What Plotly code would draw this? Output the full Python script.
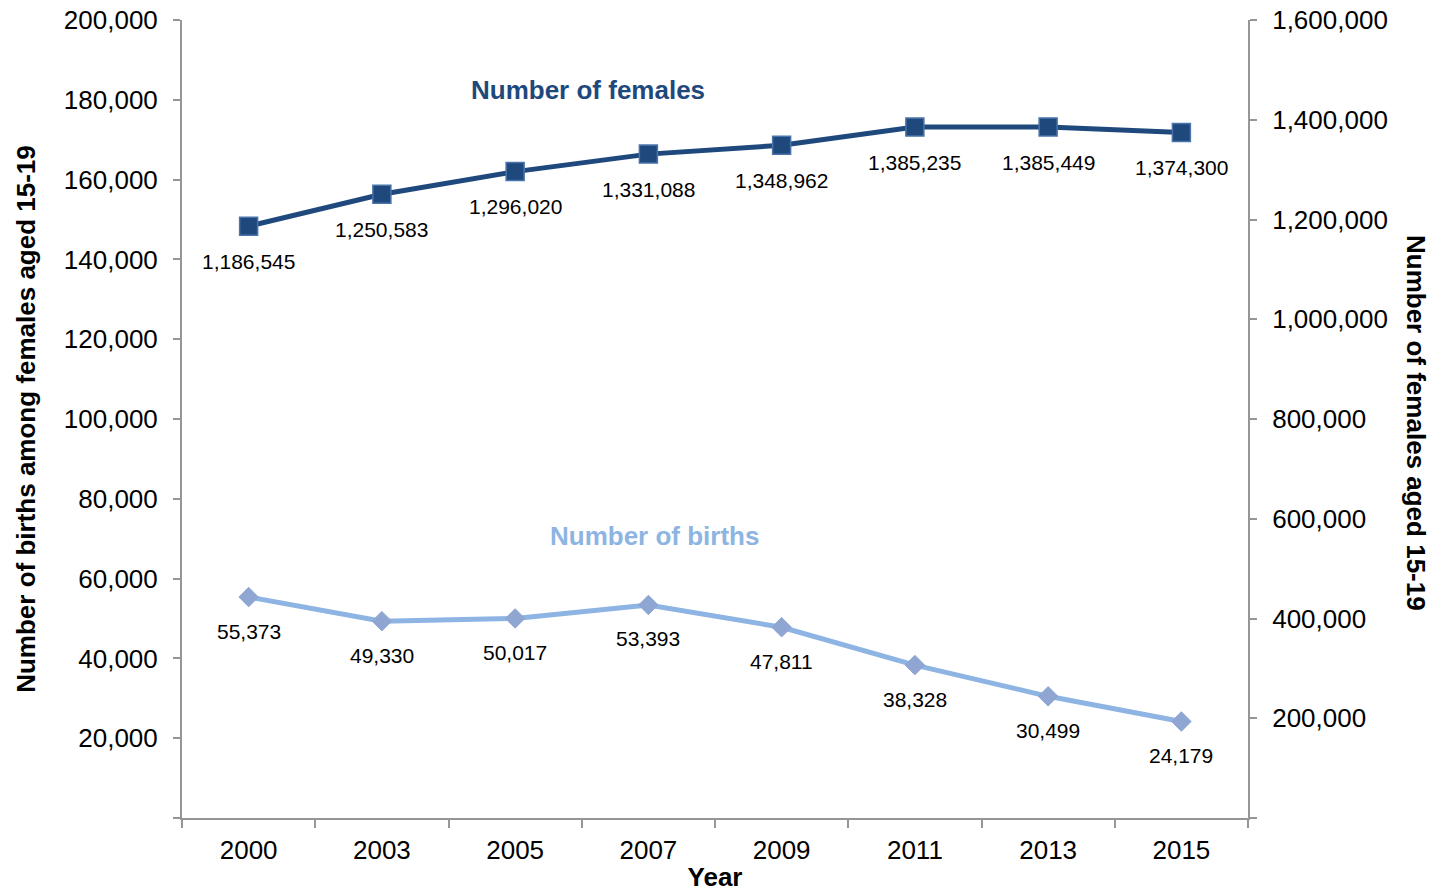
import plotly.graph_objects as go

# Survey years (categorical x axis)
years = ["2000", "2003", "2005", "2007", "2009", "2011", "2013", "2015"]

# Number of females aged 15-19 (right axis)
females = [1186545, 1250583, 1296020, 1331088, 1348962, 1385235, 1385449, 1374300]

# Number of births among females aged 15-19 (left axis)
births = [55373, 49330, 50017, 53393, 47811, 38328, 30499, 24179]

# Tick values and labels
left_ticks = [0, 20000, 40000, 60000, 80000, 100000, 120000, 140000, 160000, 180000, 200000]
right_ticks = [0, 200000, 400000, 600000, 800000, 1000000, 1200000, 1400000, 1600000]

FEMALE_COLOR = "#1F497D"
BIRTH_LINE = "#8DB4E2"
BIRTH_MARKER = "#8FA6D2"
AXIS_COLOR = "#969696"
FONT = "Liberation Sans, Arial, sans-serif"
TICK_SIZE = 26
LABEL_SIZE = 21
TITLE_SIZE = 26


def fmt(v):
    return f"{v:,}"


def tick_text(vals):
    return ["" if v == 0 else fmt(v) for v in vals]


fig = go.Figure()

fig.add_trace(go.Scatter(
    x=years, y=births, mode="lines+markers", name="Number of births",
    line=dict(color=BIRTH_LINE, width=5),
    marker=dict(symbol="diamond", size=15, color=BIRTH_MARKER,
                line=dict(color=BIRTH_MARKER, width=1)),
    yaxis="y", showlegend=False,
))

fig.add_trace(go.Scatter(
    x=years, y=females, mode="lines+markers", name="Number of females",
    line=dict(color=FEMALE_COLOR, width=5),
    marker=dict(symbol="square", size=18, color=FEMALE_COLOR,
                line=dict(color="#4A74AA", width=1.5)),
    yaxis="y2", showlegend=False,
))

annotations = []
# Value labels under each marker (x given as category index)
for i, v in enumerate(births):
    annotations.append(dict(x=i, y=v, xref="x", yref="y", text=fmt(v),
                            showarrow=False, yshift=-34,
                            xanchor="center", yanchor="middle",
                            font=dict(family=FONT, size=LABEL_SIZE, color="#000000")))
for i, v in enumerate(females):
    annotations.append(dict(x=i, y=v, xref="x", yref="y2", text=fmt(v),
                            showarrow=False, yshift=-35,
                            xanchor="center", yanchor="middle",
                            font=dict(family=FONT, size=LABEL_SIZE, color="#000000")))

# Series names drawn inside the plot
annotations.append(dict(x=0.381, y=0.912, xref="paper", yref="paper",
                        xanchor="center", yanchor="middle",
                        text="<b>Number of females</b>", showarrow=False,
                        font=dict(family=FONT, size=TITLE_SIZE, color=FEMALE_COLOR)))
annotations.append(dict(x=0.4437, y=0.3534, xref="paper", yref="paper",
                        xanchor="center", yanchor="middle",
                        text="<b>Number of births</b>", showarrow=False,
                        font=dict(family=FONT, size=TITLE_SIZE, color=BIRTH_LINE)))

# Right axis title reads top to bottom
annotations.append(dict(x=1.0, y=0.495, xref="paper", yref="paper",
                        xanchor="center", yanchor="middle", xshift=168,
                        text="<b>Number of females aged 15-19</b>", textangle=90,
                        showarrow=False,
                        font=dict(family=FONT, size=TITLE_SIZE, color="#000000")))

fig.update_layout(
    width=1439, height=892,
    margin=dict(l=182, r=191, t=20, b=74, autoexpand=False),
    paper_bgcolor="white", plot_bgcolor="white",
    font=dict(family=FONT, size=TICK_SIZE, color="#000000"),
    xaxis=dict(
        type="category", range=[-0.5, 7.5], automargin=False,
        showline=True, linecolor=AXIS_COLOR, linewidth=2,
        ticks="outside", tickson="boundaries", ticklen=8, tickcolor=AXIS_COLOR, tickwidth=2,
        showgrid=False, zeroline=False,
        tickfont=dict(family=FONT, size=TICK_SIZE), ticklabelstandoff=8,
        title=dict(text="<b>Year</b>", font=dict(family=FONT, size=TITLE_SIZE), standoff=5),
    ),
    yaxis=dict(
        range=[0, 200000], tickvals=left_ticks, ticktext=tick_text(left_ticks),
        automargin=False,
        showline=True, linecolor=AXIS_COLOR, linewidth=2,
        ticks="outside", ticklen=7, tickcolor=AXIS_COLOR, tickwidth=2,
        showgrid=False, zeroline=False,
        tickfont=dict(family=FONT, size=TICK_SIZE), ticklabelstandoff=10,
        title=dict(text="<b>Number of births among females aged 15-19</b>",
                   font=dict(family=FONT, size=TITLE_SIZE), standoff=21),
    ),
    yaxis2=dict(
        range=[0, 1600000], tickvals=right_ticks, ticktext=tick_text(right_ticks),
        overlaying="y", side="right", automargin=False,
        showline=True, linecolor=AXIS_COLOR, linewidth=2,
        ticks="outside", ticklen=7, tickcolor=AXIS_COLOR, tickwidth=2,
        showgrid=False, zeroline=False,
        tickfont=dict(family=FONT, size=TICK_SIZE), ticklabelstandoff=10,
    ),
    annotations=annotations,
)

fig.write_html("out.html")
